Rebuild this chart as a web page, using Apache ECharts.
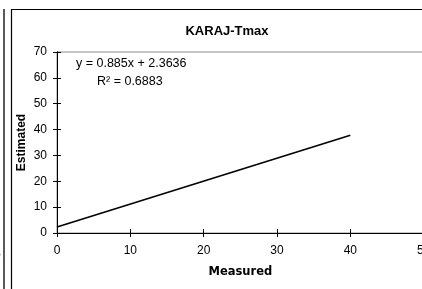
<!DOCTYPE html>
<html>
<head>
<meta charset="utf-8">
<script src="https://cdn.jsdelivr.net/npm/echarts@6/dist/echarts.min.js"></script>
<style>
  html, body { margin: 0; padding: 0; background: #fff; }
  #chart { width: 422px; height: 289px; }
</style>
</head>
<body>
<div id="chart"></div>
<script>
// trend line end points (Measured, Estimated)
const measured = [0, 40];
const estimated = [2.36, 37.8];
const xTicks = [0, 10, 20, 30, 40, 50];
const yTicks = [0, 10, 20, 30, 40, 50, 60, 70];
const equation = 'y = 0.885x + 2.3636';
const r2 = 'R\u00b2 = 0.6883';

const chart = echarts.init(document.getElementById('chart'));

const font = 'Arial, "Liberation Sans", sans-serif';
const tickStyle = { color: '#000', width: 1 };

const xBase = {
  type: 'value', min: xTicks[0], max: xTicks[xTicks.length - 1], interval: 10,
  axisLine: { lineStyle: { color: '#000', width: 1 } },
  splitLine: { show: false }
};
const yBase = {
  type: 'value', min: yTicks[0], max: yTicks[yTicks.length - 1], interval: 10,
  axisLine: { show: true, lineStyle: { color: '#000', width: 1 } },
  splitLine: { show: false }
};

const option = {
  animation: false,
  backgroundColor: '#fff',
  title: {
    text: 'KARAJ-Tmax',
    left: 222, top: 20, textAlign: 'center',
    textStyle: { fontFamily: font, fontSize: 13, fontWeight: 'bold', color: '#000' }
  },
  grid: {
    left: 57, top: 52, width: 366.7, height: 181,
    outerBoundsMode: 'none', containLabel: false,
    show: true, borderColor: '#8c8c8c', borderWidth: 1, backgroundColor: 'transparent'
  },
  xAxis: [
    Object.assign({}, xBase, {
      name: 'Measured', nameLocation: 'middle', nameGap: 33, nameMoveOverlap: false,
      nameTextStyle: { fontFamily: '"DejaVu Sans", sans-serif', fontSize: 11.5, fontWeight: 'bold', color: '#000' },
      axisTick: { show: true, inside: false, length: 4, lineStyle: tickStyle },
      axisLabel: { fontFamily: font, fontSize: 12, color: '#000', margin: 12 }
    }),
    Object.assign({}, xBase, {
      position: 'bottom',
      axisTick: { show: true, inside: true, length: 4, lineStyle: tickStyle },
      axisLabel: { show: false }
    })
  ],
  yAxis: [
    Object.assign({}, yBase, {
      name: 'Estimated', nameLocation: 'middle', nameGap: 29, nameRotate: 90, nameMoveOverlap: false,
      nameTextStyle: { fontFamily: font, fontSize: 12, fontWeight: 'bold', color: '#000' },
      axisTick: { show: true, inside: false, length: 4, lineStyle: tickStyle },
      axisLabel: { fontFamily: font, fontSize: 12, color: '#000', margin: 10 }
    }),
    Object.assign({}, yBase, {
      position: 'left',
      axisTick: { show: true, inside: true, length: 4, lineStyle: tickStyle },
      axisLabel: { show: false }
    })
  ],
  series: [{
    type: 'line',
    xAxisIndex: 0, yAxisIndex: 0,
    data: measured.map((m, i) => [m, estimated[i]]),
    showSymbol: false,
    lineStyle: { color: '#000', width: 1.6 },
    silent: true
  }],
  graphic: [
    // outer chart frame and neighbour frame edge
    { type: 'rect', shape: { x: 11.5, y: 9.5, width: 440, height: 300 },
      style: { fill: 'none', stroke: '#000', lineWidth: 1.2 }, silent: true },
    { type: 'line', shape: { x1: 4, y1: 9, x2: 4, y2: 289 },
      style: { stroke: '#222', lineWidth: 1.5 }, silent: true },
    { type: 'text', left: -6, top: 250,
      style: { text: '0', font: '12px ' + font, fill: '#000' }, silent: true },
    { type: 'text', left: 76, top: 57,
      style: { text: equation, font: '12.5px ' + font, fill: '#000' }, silent: true },
    { type: 'text', left: 97, top: 75,
      style: { text: r2, font: '12.5px ' + font, fill: '#000' }, silent: true }
  ]
};

chart.setOption(option);
</script>
</body>
</html>
